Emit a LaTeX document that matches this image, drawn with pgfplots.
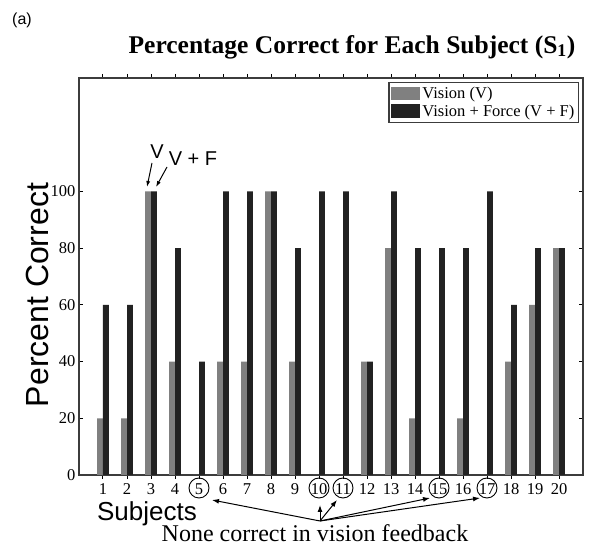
\documentclass[border=0pt]{standalone}
\usepackage{pgfplots}
\pgfplotsset{compat=1.18}
\usepackage{pgfplotstable}
\usepackage{fontspec}
\setmainfont{Liberation Serif}
\newfontfamily\sansf{Liberation Sans}
\usetikzlibrary{arrows.meta}

\definecolor{visgray}{RGB}{128,128,128}
\definecolor{vfdark}{RGB}{34,34,34}
\definecolor{framegray}{RGB}{60,60,60}

% subject, vision, vision+force (percent correct)
\pgfplotstableread{
subj V VF
1 20 60
2 20 60
3 100 100
4 40 80
5 0 40
6 40 100
7 40 100
8 100 100
9 40 80
10 0 100
11 0 100
12 40 40
13 80 100
14 20 80
15 0 80
16 20 80
17 0 100
18 40 60
19 60 80
20 80 80
}\datatable

\begin{document}
\begin{tikzpicture}[x=1pt,y=1pt]
\path[use as bounding box] (-79,-73) rectangle (516,475);
\begin{axis}[
  at={(0,0)}, anchor=south west,
  scale only axis, width=504pt, height=397pt,
  xmin=0, xmax=21, ymin=0, ymax=140,
  xtick={1,...,20}, ytick={0,20,...,100},
  tick align=inside, major tick length=4pt,
  tick style={line width=1pt, black},
  axis line style={line width=1.6pt, framegray},
  tick label style={font=\fontsize{16.5}{16.5}\selectfont},
  /pgf/number format/assume math mode=true,
  xticklabel style={yshift=-1pt},
  ybar=0pt, bar width=0.24,
  legend style={at={(rel axis cs:0.993,0.99)}, anchor=north east,
    draw=framegray, line width=1.2pt, font=\fontsize{16.5}{20}\selectfont,
    inner sep=2.5pt, row sep=1pt, cells={anchor=west}},
  legend image code/.code={\fill[#1] (0pt,-6.5pt) rectangle (29pt,7pt);},
  clip=false,
]
\addplot[fill=visgray, draw=none, bar shift=-0.12] table[x=subj, y=V] {\datatable};
\addlegendentry{Vision (V)}
\addplot[fill=vfdark, draw=none, bar shift=0.12] table[x=subj, y=VF] {\datatable};
\addlegendentry{Vision + Force (V + F)}
\end{axis}

% title and panel letter
\node[font=\bfseries\fontsize{25.5}{25.5}\selectfont] at (273,428) {Percentage Correct for Each Subject (S$_\mathbf{1}$)};
\node[font=\sansf\fontsize{16}{16}\selectfont] at (-57,455) {(a)};

% axis titles
\node[font=\sansf\fontsize{32}{32}\selectfont, rotate=90] at (-42,180) {Percent Correct};
\node[font=\sansf\fontsize{26}{26}\selectfont] at (68,-39) {Subjects};

% V and V+F pointers at subject 3
\node[font=\sansf\fontsize{20}{20}\selectfont] at (78,323) {V};
\node[font=\sansf\fontsize{20}{20}\selectfont] at (114,316) {V + F};
\draw[-{Latex[length=6pt,width=4pt]}, line width=1pt] (73,312) -- (68,288);
\draw[-{Latex[length=6pt,width=4pt]}, line width=1pt] (88,308) -- (77,288);

% subjects with no correct answers under vision only
\foreach \s in {5,10,11,15,17}
  \draw[line width=0.9pt] (24*\s,-13) circle (10);
\foreach \p in {(133,-25),(241,-30),(258,-25),(351,-23),(401,-23)}
  \draw[-{Latex[length=7pt,width=5pt]}, line width=1pt] (241,-46) -- \p;
\node[font=\fontsize{24}{24}\selectfont] at (236,-58.5) {None correct in vision feedback};
\end{tikzpicture}
\end{document}
